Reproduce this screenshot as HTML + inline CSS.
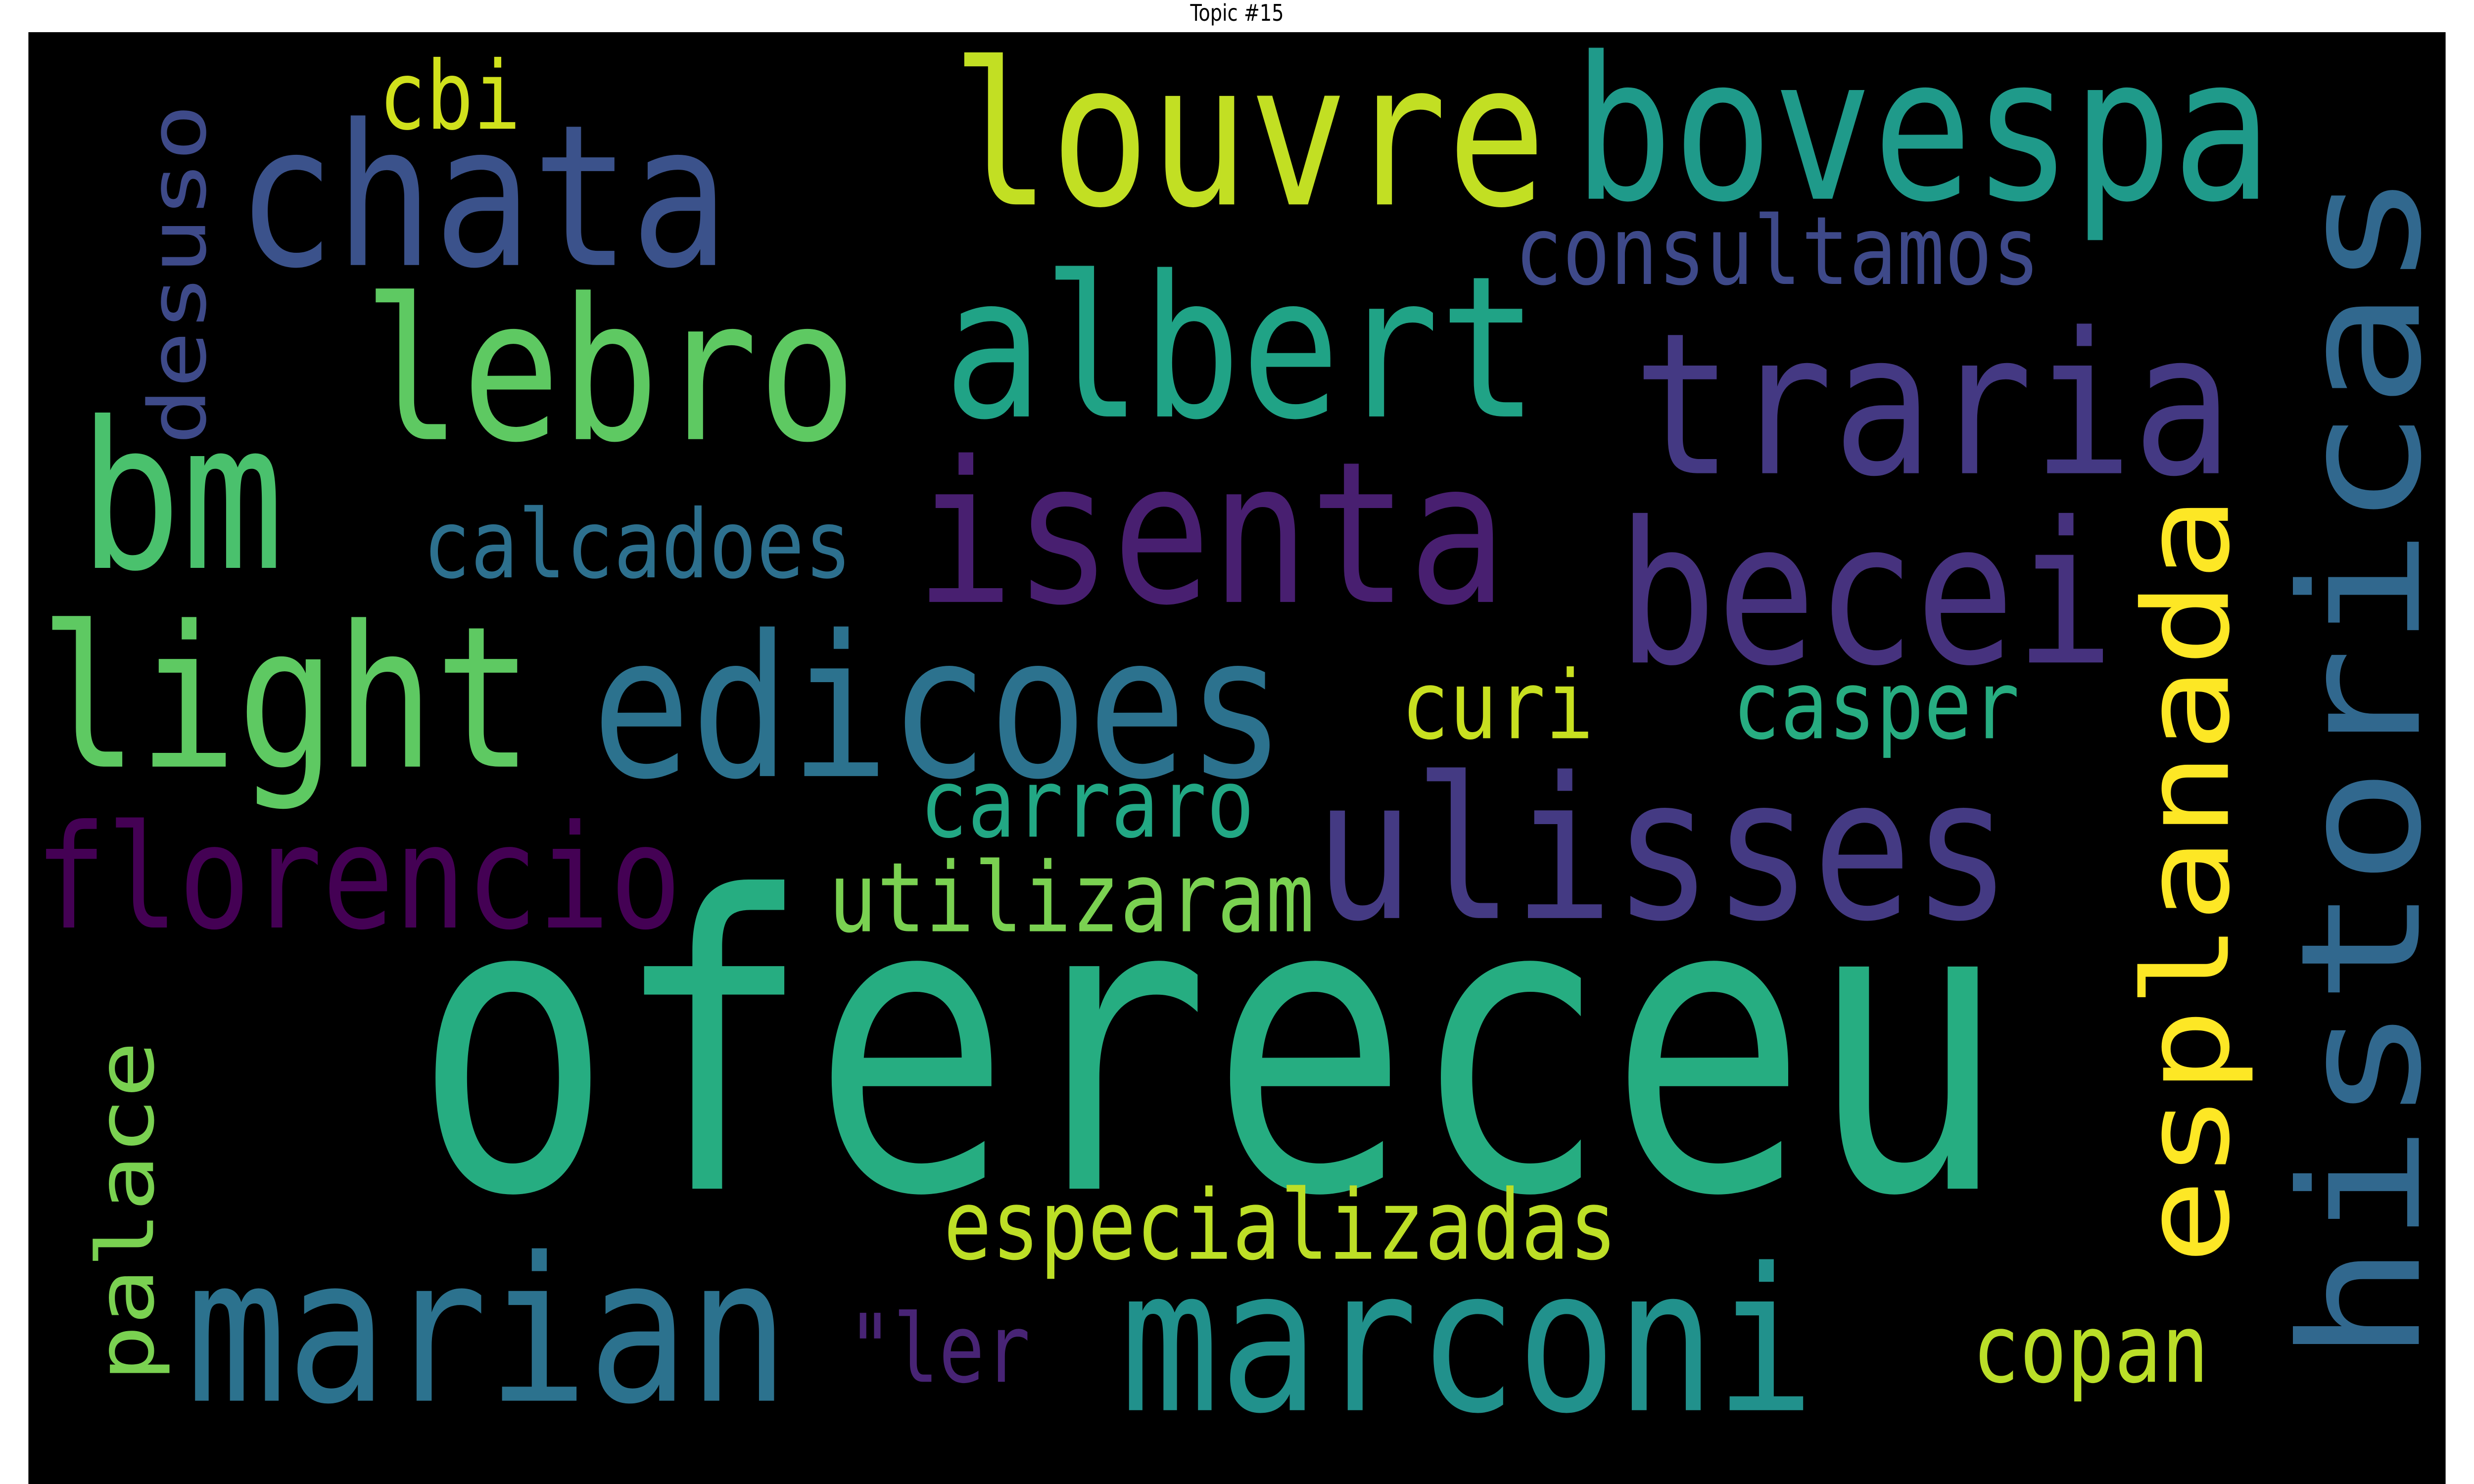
<!DOCTYPE html>
<html>
<head>
<meta charset="utf-8">
<style>
html,body{margin:0;padding:0;background:#fff;width:100vw;height:100vh;overflow:hidden;}
svg{display:block;position:absolute;left:0;top:0;width:100vw;height:100vh;}
text{font-family:"DejaVu Sans Mono","Liberation Mono",monospace;}
</style>
</head>
<body>
<svg viewBox="0 0 1568 784" preserveAspectRatio="none" xmlns="http://www.w3.org/2000/svg">
<rect x="0" y="0" width="1568" height="784" fill="#ffffff"/>
<text x="784" y="11" font-size="12" text-anchor="middle" fill="#000" style="font-family:'DejaVu Sans','Liberation Sans',sans-serif">Topic #15</text>
<rect x="18" y="17" width="1532" height="767" fill="#000000"/>
<g id="words"></g>
</svg>
<script>
const words = ["ofereceu","marian","marconi","louvre","bovespa","chata","cbi","consultamos","lebro","albert","traria","bm","isenta","becei","calcadoes","light","edicoes","curi","casper","carraro","ulisses","florencio","utilizaram","especializadas","\"ler","copan","historicas","esplanada","palace","desuso"];
const colors = ["#26ad81","#2c728e","#21918c","#c2df23","#1f9a8a","#3b528b","#d0e11c","#3e4989","#5ec962","#20a386","#443983","#4ac16d","#481f70","#46327e","#2d708e","#5ec962","#2c728e","#c8e020","#27ad81","#22a884","#443a83","#440154","#7ad151","#bddf26","#482475","#bade28","#31688e","#fde725","#7ad151","#3e4a89"];
// layout: [x, baseline, width, fontSize, vertical]
const layout = [
[262,628,1010,215,0],[118,740,382,106,0],[710,745,440,105,0],[603,108,377,105,0],
[997,105,443,105,0],[150,140,312,104,0],[240,68,90,50,0],[960,150,333,50,0],
[230,232,313,104,0],[598,220,377,104,0],[1035,250,380,104,0],[50,300,130,108,0],
[580,318,375,104,0],[1025,350,315,104,0],[268,305,272,50,0],[25,405,313,104,0],
[375,410,440,104,0],[888,390,122,50,0],[1098,390,182,50,0],[583,442,212,50,0],
[833,485,442,104,0],[22,490,410,76,0],[525,492,308,51,0],[598,665,427,51,0],
[537,730,116,50,0],[1250,730,150,50,0],
[1533,720,630,105,1],[1412,668,406,75,1],[97,730,180,50,1],[130,235,180,50,1]
];
const g = document.getElementById('words');
const NS = "http://www.w3.org/2000/svg";
words.forEach((w,i)=>{
  const [x,y,len,fs,v] = layout[i];
  const t = document.createElementNS(NS,'text');
  
  
  t.setAttribute('font-size', fs);
  t.setAttribute('fill', colors[i]);
  t.setAttribute('textLength', len);
  t.setAttribute('lengthAdjust', 'spacingAndGlyphs');
  if (v) {
    t.setAttribute('x', 0); t.setAttribute('y', 0);
    t.setAttribute('transform', 'translate(' + x + ',' + y + ') rotate(-90)');
  } else {
    t.setAttribute('x', x); t.setAttribute('y', y);
  }
  t.textContent = w;
  g.appendChild(t);
});
</script>
</body>
</html>
